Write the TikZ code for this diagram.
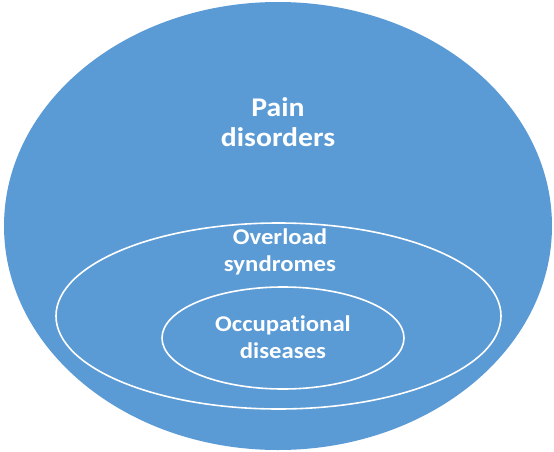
\documentclass[tikz,border=0pt]{standalone}
\usepackage{fontspec}
\setmainfont{Carlito}[FakeStretch=1.1, RawFeature=-liga]
\usepackage{tikz}
\usetikzlibrary{shapes.geometric}

\definecolor{setblue}{HTML}{5B9BD5}

\begin{document}
\begin{tikzpicture}[x=1pt, y=-1pt,
    every node/.style={font=\bfseries, text=white, align=center},
    setring/.style={ellipse, draw=white, line width=1.6pt, inner sep=0pt}]

\useasboundingbox (0,0) rectangle (554,452);

% --- outer set ---
\node[ellipse, fill=setblue, inner sep=0pt, minimum width=548pt, minimum height=448pt] (pain) at (278,226) {};

% --- nested sets ---
\node[setring, minimum width=445pt, minimum height=186pt] (overload) at (278.5,316) {};
\node[setring, minimum width=242pt, minimum height=102pt] (occup) at (283,338) {};

% labels
\node[font=\bfseries\fontsize{27}{30}\selectfont] (painlbl) at (278,122) {Pain\\disorders};
\node[font=\bfseries\fontsize{22.5}{27.5}\selectfont] (overloadlbl) at (280,252) {Overload\\syndromes};
\node[font=\bfseries\fontsize{22.5}{26.5}\selectfont] (occuplbl) at (283,337) {Occupational\\diseases};

\end{tikzpicture}
\end{document}
